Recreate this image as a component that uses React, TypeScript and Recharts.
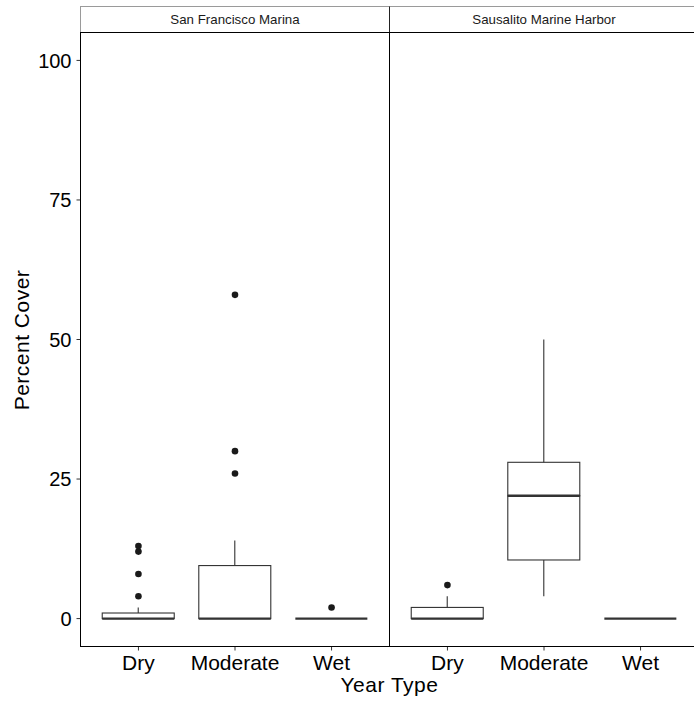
import React from 'react';
import { ComposedChart, Bar, Line, XAxis, YAxis } from 'recharts';

// ---- data ----
const yearTypes = ['Dry', 'Moderate', 'Wet'];
const siteNames = ['San Francisco Marina', 'Sausalito Marine Harbor'];
const yTicks = [0, 25, 50, 75, 100];
const yDomain = [-5, 105];
const xTitle = 'Year Type';
const yTitle = 'Percent Cover';

// San Francisco Marina
const sfMin = [0, 0, 0];
const sfQ1 = [0, 0, 0];
const sfMedian = [0, 0, 0];
const sfQ3 = [1, 9.5, 0];
const sfMax = [2, 14, 0];
const sfOutliers = [[4, 8, 12, 13], [26, 30, 58], [2]];

// Sausalito Marine Harbor
const smhMin = [0, 4, 0];
const smhQ1 = [0, 10.5, 0];
const smhMedian = [0, 22, 0];
const smhQ3 = [2, 28, 0];
const smhMax = [4, 50, 0];
const smhOutliers = [[6], [], []];

const outlierKeys = ['o0', 'o1', 'o2', 'o3'];

function buildRows(min: number[], q1: number[], med: number[], q3: number[], max: number[], outliers: number[][]) {
  return yearTypes.map((t, i) => {
    const row: any = {
      type: t,
      base: min[i],
      lowWhisker: q1[i] - min[i],
      lowBox: med[i] - q1[i],
      highBox: q3[i] - med[i],
      highWhisker: max[i] - q3[i],
    };
    outlierKeys.forEach((k, j) => {
      row[k] = outliers[i][j] !== undefined ? outliers[i][j] : null;
    });
    return row;
  });
}

const sfRows = buildRows(sfMin, sfQ1, sfMedian, sfQ3, sfMax, sfOutliers);
const smhRows = buildRows(smhMin, smhQ1, smhMedian, smhQ3, smhMax, smhOutliers);

// ---- styling ----
const FONT = '"Liberation Sans", Arial, Helvetica, sans-serif';
const INK = '#333333';

const WhiskerShape = (p: any) => (
  <line x1={p.x + p.width / 2} x2={p.x + p.width / 2} y1={p.y} y2={p.y + p.height} stroke={INK} strokeWidth={1.1} />
);
const LowBoxShape = (p: any) => (
  <rect x={p.x} y={p.y} width={p.width} height={Math.max(0, p.height)} fill="#ffffff" stroke={INK} strokeWidth={1.1} />
);
const HighBoxShape = (p: any) => (
  <g>
    <rect x={p.x} y={p.y} width={p.width} height={Math.max(0, p.height)} fill="#ffffff" stroke={INK} strokeWidth={1.1} />
    <line x1={p.x} x2={p.x + p.width} y1={p.y + p.height} y2={p.y + p.height} stroke={INK} strokeWidth={2.4} />
  </g>
);
const NoShape = () => null;

function Panel({ rows, showYAxis }: { rows: any[]; showYAxis: boolean }) {
  const width = showYAxis ? 390 : 700;
  const margin = showYAxis
    ? { top: 32.5, right: 0.5, bottom: 26.5, left: 0 }
    : { top: 32.5, right: 1.5, bottom: 26.5, left: 389.5 };
  const pad = 9.66;
  return (
    <ComposedChart width={width} height={703} data={rows} margin={margin} barCategoryGap="12.5%">
      <XAxis
        dataKey="type"
        height={30}
        interval={0}
        padding={{ left: pad, right: pad }}
        tickSize={4}
        tickMargin={5}
        axisLine={{ stroke: '#000', strokeWidth: 1 }}
        tickLine={{ stroke: INK, strokeWidth: 1 }}
        tick={{ fontSize: 21, fill: '#000', fontFamily: FONT }}
      />
      <YAxis
        type="number"
        domain={yDomain}
        ticks={yTicks}
        interval={0}
        allowDataOverflow
        width={showYAxis ? 80.5 : 0}
        hide={!showYAxis}
        tickSize={4}
        tickMargin={5}
        tick={{ fontSize: 20, fill: '#000', fontFamily: FONT }}
        tickLine={{ stroke: INK, strokeWidth: 1 }}
        axisLine={{ stroke: '#000', strokeWidth: 1 }}
      />
      <Bar dataKey="base" stackId="box" shape={NoShape} isAnimationActive={false} />
      <Bar dataKey="lowWhisker" stackId="box" shape={WhiskerShape} isAnimationActive={false} />
      <Bar dataKey="lowBox" stackId="box" shape={LowBoxShape} isAnimationActive={false} />
      <Bar dataKey="highBox" stackId="box" shape={HighBoxShape} isAnimationActive={false} />
      <Bar dataKey="highWhisker" stackId="box" shape={WhiskerShape} isAnimationActive={false} />
      {outlierKeys.map((k) => (
        <Line
          key={k}
          dataKey={k}
          stroke="none"
          isAnimationActive={false}
          activeDot={false}
          dot={{ r: 3.3, fill: '#1a1a1a', stroke: 'none', strokeWidth: 0 }}
        />
      ))}
    </ComposedChart>
  );
}

const stripBase: React.CSSProperties = {
  position: 'absolute',
  top: 6,
  height: 26,
  boxSizing: 'border-box',
  borderTop: '1px solid #9a9a9a',
  background: '#fff',
  display: 'flex',
  alignItems: 'center',
  justifyContent: 'center',
  fontFamily: FONT,
  fontSize: 13.3,
  color: '#1a1a1a',
};

const panelFrame: React.CSSProperties = {
  position: 'absolute',
  top: 32,
  width: 310,
  height: 615,
  boxSizing: 'border-box',
  border: '1px solid #000',
  pointerEvents: 'none',
};

export default function App() {
  return (
    <div
      style={{
        position: 'absolute',
        left: 0,
        top: 0,
        width: 694,
        height: 703,
        overflow: 'hidden',
        background: '#fff',
      }}
    >
      <div style={{ ...stripBase, left: 80, width: 310, borderLeft: '1px solid #9a9a9a', borderRight: '1px solid #222' }}>
        {siteNames[0]}
      </div>
      <div style={{ ...stripBase, left: 390, width: 309, borderRight: '1px solid #9a9a9a' }}>{siteNames[1]}</div>
      <div style={{ position: 'absolute', left: 0, top: 0 }}>
        <Panel rows={sfRows} showYAxis={true} />
      </div>
      <div style={{ position: 'absolute', left: 0, top: 0 }}>
        <Panel rows={smhRows} showYAxis={false} />
      </div>
      <div style={{ ...panelFrame, left: 80 }} />
      <div style={{ ...panelFrame, left: 389 }} />
      <svg width={694} height={703} style={{ position: 'absolute', left: 0, top: 0, pointerEvents: 'none' }}>
        <text x={389.5} y={692} textAnchor="middle" fontFamily={FONT} fontSize={21} fill="#000" letterSpacing={0.5}>
          {xTitle}
        </text>
        <text
          x={28.5}
          y={340}
          textAnchor="middle"
          fontFamily={FONT}
          fontSize={21}
          fill="#000"
          letterSpacing={0.5}
          transform="rotate(-90, 28.5, 340)"
        >
          {yTitle}
        </text>
      </svg>
    </div>
  );
}
